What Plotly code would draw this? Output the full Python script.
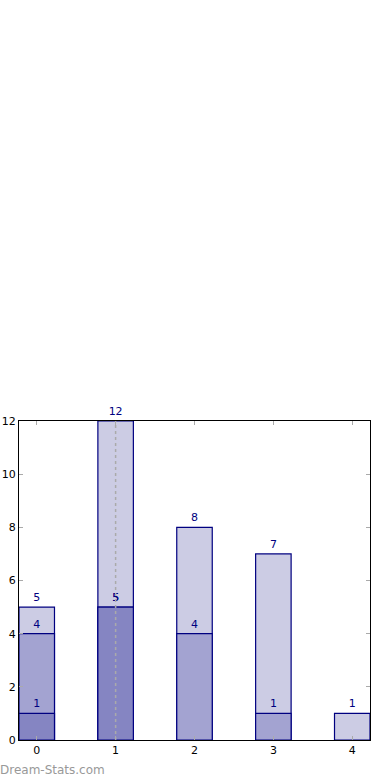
import plotly.graph_objects as go

categories = [0, 1, 2, 3, 4]
light_vals = [5, 12, 8, 7, 1]
medium_vals = [4, 5, 4, 1, None]
dark_vals = [1, 5, None, None, None]
y_ticks = [0, 2, 4, 6, 8, 10, 12]

navy = "#000080"
fig = go.Figure()
for vals, color in [(light_vals, "#ccccE4"), (medium_vals, "#a3a3d1"), (dark_vals, "#8585c2")]:
    fig.add_trace(go.Bar(
        x=categories, y=vals, width=0.45,
        marker=dict(color=color, line=dict(color=navy, width=1.2)),
        text=[("" if v is None else str(v)) for v in vals],
        textposition="outside", textfont=dict(color=navy, size=11, family="DejaVu Sans"),
        cliponaxis=False, showlegend=False,
    ))
fig.add_trace(go.Scatter(
    x=[1, 1], y=[0, 12], mode="lines",
    line=dict(color="#aaaaaa", width=1.5, dash="dot"), showlegend=False,
))

fig.update_layout(
    barmode="overlay", width=390, height=780,
    margin=dict(l=19, r=20, t=421, b=40, autoexpand=False),
    plot_bgcolor="white", paper_bgcolor="white",
    font=dict(family="DejaVu Sans", size=11, color="black"),
    xaxis=dict(range=[-0.225, 4.225], tickvals=categories, ticks="inside", ticklen=4,
               tickcolor="#aaaaaa", showline=True, linecolor="black", linewidth=1,
               mirror="allticks", showgrid=False, zeroline=False, automargin=False),
    yaxis=dict(range=[0, 12], tickvals=y_ticks, ticks="inside", ticklen=4,
               tickcolor="#aaaaaa", showline=True, linecolor="black", linewidth=1,
               mirror="allticks", showgrid=False, zeroline=False, automargin=False),
    annotations=[dict(text="Dream-Stats.com", x=0, y=0, xref="paper", yref="paper",
                      xanchor="left", yanchor="top", xshift=-21, yshift=-21, showarrow=False,
                      font=dict(color="#999999", size=12, family="DejaVu Sans"))],
)
fig.write_html("out.html")
